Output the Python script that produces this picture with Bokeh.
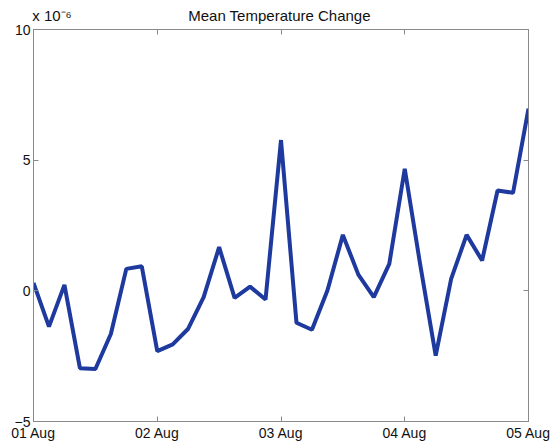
from datetime import datetime, timedelta
from bokeh.plotting import figure
from bokeh.models import (Range1d, FixedTicker, DatetimeTickFormatter, LinearAxis,
                          ColumnDataSource, CustomJSTickFormatter)
from bokeh.embed import file_html
from bokeh.resources import INLINE

# Mean temperature change, in units of 1e-6, sampled every 3 hours from 01 Aug
start = datetime(2011, 8, 1)
step_hours = 3
values_e6 = [0.30, -1.37, 0.23, -2.96, -2.99, -1.65, 0.84, 0.94,
             -2.31, -2.05, -1.45, -0.24, 1.67, -0.27, 0.16, -0.33,
             5.77, -1.22, -1.49, 0.01, 2.14, 0.62, -0.24, 1.03,
             4.67, 1.00, -2.48, 0.46, 2.14, 1.16, 3.84, 3.75, 6.97]
times = [start + timedelta(hours=step_hours * i) for i in range(len(values_e6))]
tick_days = [datetime(2011, 8, d) for d in (1, 2, 3, 4, 5)]
y_ticks = [-5, 0, 5, 10]
title_text = "Mean Temperature Change"
exp_text = "x 10\u207b\u2076"

FONT = "Liberation Sans"
GRAY = "#8a8a8a"
TXT = "#111111"

src = ColumnDataSource(dict(t=times, v=values_e6))

p = figure(width=553, height=444, output_backend="svg", toolbar_location=None,
           x_axis_type="datetime",
           x_range=Range1d(tick_days[0], tick_days[-1]), y_range=Range1d(-5, 10),
           min_border_left=33, min_border_right=25, min_border_top=29, min_border_bottom=23)

p.line("t", "v", source=src, line_color="#1f3a9e", line_width=4)

day_ms = [d.timestamp() * 1000 for d in tick_days]
for ax in p.xaxis:
    ax.ticker = FixedTicker(ticks=day_ms)
    ax.formatter = DatetimeTickFormatter(days="%d %b", months="%d %b", hours="%d %b")
for ax in p.yaxis:
    ax.ticker = FixedTicker(ticks=y_ticks)

for ax in list(p.xaxis) + list(p.yaxis):
    ax.major_tick_in = 5
    ax.major_tick_out = 0
    ax.minor_tick_line_color = None
    ax.axis_line_color = GRAY
    ax.major_tick_line_color = GRAY
    ax.major_label_text_font = FONT
    ax.major_label_text_font_size = "14px"
    ax.major_label_text_color = TXT
    ax.major_label_standoff = 3

# top axis: day tick marks (as minor ticks) plus exponent and title as its labels
p.extra_x_ranges = {"frac": Range1d(0, 1)}
top = LinearAxis(x_range_name="frac",
                 ticker=FixedTicker(ticks=[0.0374, 0.497], minor_ticks=[0, 0.25, 0.5, 0.75, 1.0]),
                 formatter=CustomJSTickFormatter(
                     args=dict(exp=exp_text, title=title_text),
                     code="return index == 0 ? exp : title"),
                 major_tick_line_color=None, major_tick_in=0, major_tick_out=0,
                 minor_tick_in=5, minor_tick_out=0, minor_tick_line_color=GRAY,
                 axis_line_color=GRAY,
                 major_label_text_font=FONT, major_label_text_font_size="15px",
                 major_label_text_color=TXT, major_label_standoff=6)
p.add_layout(top, "above")

right = LinearAxis(ticker=FixedTicker(ticks=y_ticks), major_label_text_font_size="0px",
                   major_tick_in=5, major_tick_out=0, minor_tick_line_color=None,
                   axis_line_color=GRAY, major_tick_line_color=GRAY, major_label_standoff=0)
right.major_label_text_color = None
p.add_layout(right, "right")

p.xgrid.grid_line_color = None
p.ygrid.grid_line_color = None
p.outline_line_color = GRAY

open("out.html", "w").write(file_html(p, INLINE))
